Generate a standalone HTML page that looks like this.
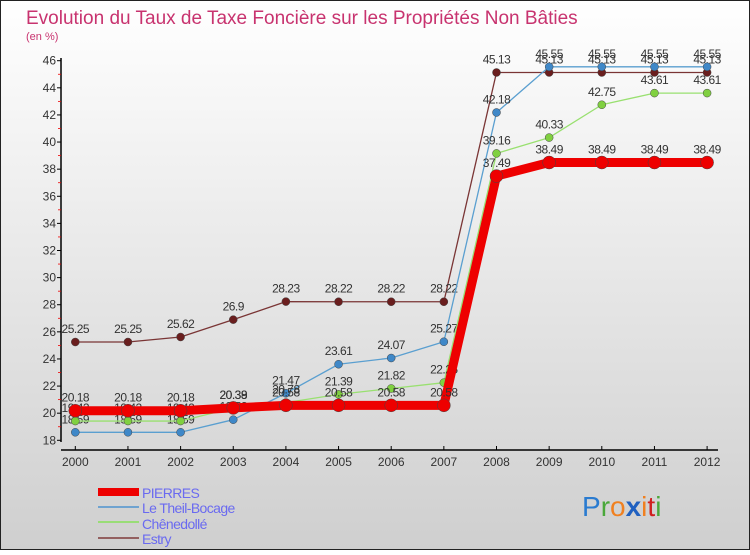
<!DOCTYPE html>
<html><head><meta charset="utf-8"><style>
body{margin:0}
svg text{font-family:"Liberation Sans",sans-serif}
</style></head><body>
<svg width="750" height="550" viewBox="0 0 750 550" xmlns="http://www.w3.org/2000/svg">
<defs><linearGradient id="bg" x1="0" y1="0" x2="0" y2="1"><stop offset="0" stop-color="#ffffff"/><stop offset="1" stop-color="#cfcfcf"/></linearGradient></defs>
<rect x="0.5" y="0.5" width="749" height="549" fill="url(#bg)" stroke="#222"/>
<text x="26" y="24" font-size="19" fill="#c8336f">Evolution du Taux de Taxe Foncière sur les Propriétés Non Bâties</text>
<text x="26" y="40" font-size="11" fill="#c8336f">(en %)</text>
<g id="axes"></g>
<g id="series"></g>
<g font-size="14" letter-spacing="-0.6">
<rect x="98" y="488" width="41" height="8" fill="#ee0000"/>
<text x="142" y="498" fill="#6a6af0">PIERRES</text>
<rect x="98" y="506" width="41" height="2" fill="#6fa3d0"/>
<text x="142" y="513" fill="#6a6af0">Le Theil-Bocage</text>
<rect x="98" y="521" width="41" height="2" fill="#99dd77"/>
<text x="142" y="529" fill="#6a6af0">Chênedollé</text>
<rect x="98" y="537" width="41" height="2" fill="#936060"/>
<text x="142" y="544" fill="#6a6af0">Estry</text>
</g>
<g font-size="28">
<text x="582" y="516"><tspan fill="#2a7bd0">P</tspan><tspan fill="#4aa83a">r</tspan><tspan fill="#f08020">o</tspan><tspan fill="#2060c0" font-weight="bold">x</tspan><tspan fill="#f08020">i</tspan><tspan fill="#d02020">t</tspan><tspan fill="#4aa83a">i</tspan></text>
</g>
</svg>
<script>
const years=["2000","2001","2002","2003","2004","2005","2006","2007","2008","2009","2010","2011","2012"];
const yTicks=[18,20,22,24,26,28,30,32,34,36,38,40,42,44,46];
const pierres=[20.18,20.18,20.18,20.39,20.58,20.58,20.58,20.58,37.49,38.49,38.49,38.49,38.49];
const theil=[18.59,18.59,18.59,19.52,21.47,23.61,24.07,25.27,42.18,45.55,45.55,45.55,45.55];
const chenedolle=[19.42,19.42,19.42,20.38,20.78,21.39,21.82,22.25,39.16,40.33,42.75,43.61,43.61];
const estry=[25.25,25.25,25.62,26.9,28.23,28.22,28.22,28.22,45.13,45.13,45.13,45.13,45.13];
const NS="http://www.w3.org/2000/svg";
const X=i=>75.3+i*52.65;
const Y=v=>440.3-(v-18)*(379.6/28);
function mk(t,a,p){const e=document.createElementNS(NS,t);for(const k in a)e.setAttribute(k,a[k]);p.appendChild(e);return e;}
const ax=document.getElementById('axes');
let l=mk('line',{x1:61,y1:58,x2:61,y2:442,stroke:'#000','stroke-width':1.5},ax);


l=mk('line',{x1:61,y1:450,x2:718,y2:450,stroke:'#000','stroke-width':1.5},ax);


yTicks.forEach(v=>{
  mk('line',{x1:57,y1:Y(v),x2:61,y2:Y(v),stroke:'#000'},ax);
  if(v<46) mk('line',{x1:58,y1:Y(v+1),x2:61,y2:Y(v+1),stroke:'#e00','stroke-width':0.8},ax);
  const t=mk('text',{x:56,y:Y(v)+4,'font-size':12,fill:'#333','text-anchor':'end'},ax);
  t.textContent=v;
  
  
});
years.forEach((y,i)=>{
  mk('line',{x1:X(i),y1:446,x2:X(i),y2:450,stroke:'#000'},ax);
  const t=mk('text',{x:X(i),y:466,'font-size':12,fill:'#333','text-anchor':'middle'},ax);
  t.textContent=y;
  
  
});
const sg=document.getElementById('series');
function series(name,data,color,w,r,fill){
  const g=mk('g',{},sg);
  
  
  const pl=mk('polyline',{points:data.map((v,i)=>X(i)+','+Y(v)).join(' '),fill:'none',stroke:color,'stroke-width':w,'stroke-linejoin':'round'},g);
  
  
  data.forEach((v,i)=>{
    const c=mk('circle',{cx:X(i),cy:Y(v),r:r,fill:fill,stroke:'#444','stroke-width':0.5},g);
    
    
    const t=mk('text',{x:X(i),y:Y(v)-9,'font-size':12,fill:'#333','text-anchor':'middle','letter-spacing':'-0.5'},g);
    t.textContent=String(v);
    
    
  });
}
series('estry',estry,'#7a3535',1.3,4,'#6a1e1e');
series('theil',theil,'#5a9fd0',1.3,4,'#3f88c8');
series('chenedolle',chenedolle,'#99e070',1.3,4,'#80d040');
series('pierres',pierres,'#ee0000',9,6.5,'#ee0000');
</script>
</body></html>
